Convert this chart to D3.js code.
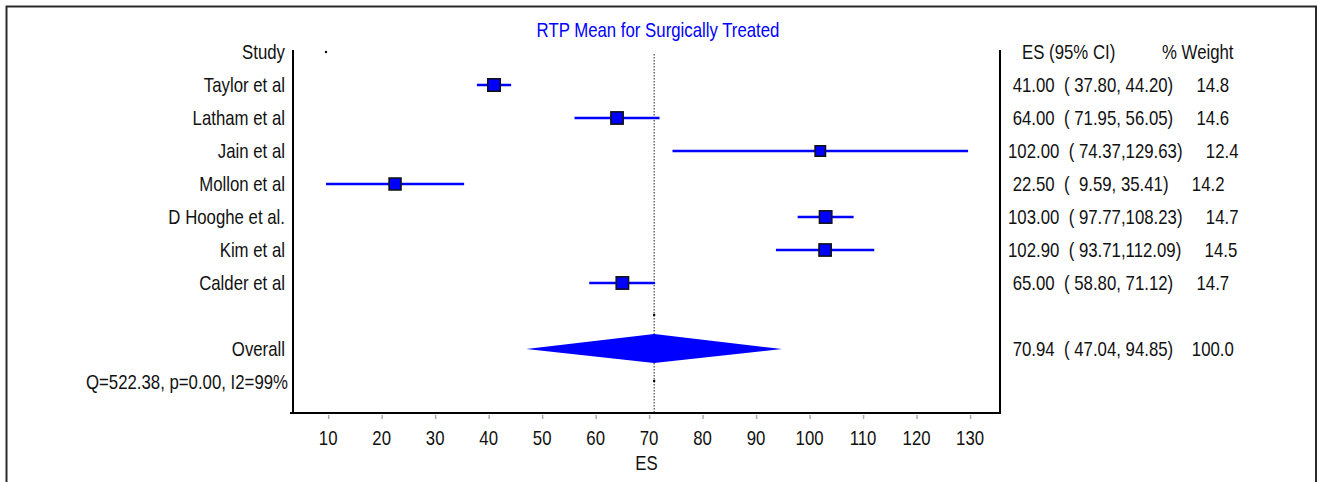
<!DOCTYPE html>
<html>
<head>
<meta charset="utf-8">
<script src="https://cdn.jsdelivr.net/npm/d3@7"></script>
<style>
  body { margin: 0; background: #fff; }
  svg text { font-family: "Liberation Sans", Arial, sans-serif; white-space: pre; }
</style>
</head>
<body>
<svg width="1319" height="482"></svg>
<script>
// data
var studies = ['Taylor et al', 'Latham et al', 'Jain et al', 'Mollon et al', 'D Hooghe et al.', 'Kim et al', 'Calder et al'];
var es = [41.00, 64.00, 102.00, 22.50, 103.00, 102.90, 65.00];
var lo = [37.80, 71.95, 74.37, 9.59, 97.77, 93.71, 58.80];
var hi = [44.20, 56.05, 129.63, 35.41, 108.23, 112.09, 71.12];
var weight = [14.8, 14.6, 12.4, 14.2, 14.7, 14.5, 14.7];
var overall = {es: 70.94, lo: 47.04, hi: 94.85, weight: 100.0};
var hetText = 'Q=522.38, p=0.00, I2=99%';
var xTicks = [10, 20, 30, 40, 50, 60, 70, 80, 90, 100, 110, 120, 130];

var fontSize = 20;
var squeeze = 0.84;
var blue = '#0000ff';

var svg = d3.select('svg');

// outer frame (bottom edge is off the picture)
svg.append('path')
    .attr('d', 'M6.5,482 V6.5 H1316 V482')
    .attr('fill', 'none')
    .attr('stroke', '#2a2a2a')
    .attr('stroke-width', 2);

var x = d3.scaleLinear().domain([3.42, 135.6]).range([293, 1000]);
var rowY = d3.scaleLinear().domain([0, 1]).range([52, 85]); // row index -> y
var boxSize = d3.scaleLinear().domain([0, 14.8]).range([0, 12.5]);

function label(txt, px, py, anchor, color) {
    return svg.append('text')
        .attr('transform', 'translate(' + px + ',' + py + ') scale(' + squeeze + ',1)')
        .attr('text-anchor', anchor || 'start')
        .attr('dy', '0.36em')
        .attr('font-size', fontSize)
        .attr('fill', color || '#111')
        .text(txt);
}

function pad(v, n, d) {
    var s = v.toFixed(d);
    while (s.length < n) s = ' ' + s;
    return s;
}

function rowText(e, l, h, w) {
    return pad(e, 6, 2) + '  (' + pad(l, 6, 2) + ',' + pad(h, 6, 2) + ')    ' + pad(w, 5, 1);
}

// title
label('RTP Mean for Surgically Treated', 658, 30, 'middle', blue);

// frame lines
svg.append('line').attr('x1', 293).attr('x2', 293).attr('y1', 50).attr('y2', 414)
    .attr('stroke', '#000').attr('stroke-width', 2);
svg.append('line').attr('x1', 1000).attr('x2', 1000).attr('y1', 50).attr('y2', 414)
    .attr('stroke', '#000').attr('stroke-width', 2);

// x axis
var axis = svg.append('g')
    .attr('transform', 'translate(0,413)')
    .call(d3.axisBottom(x).tickValues(xTicks).tickSize(6).tickPadding(8).tickFormat(d3.format('d')));
axis.select('.domain').attr('stroke', '#000').attr('stroke-width', 2)
    .attr('d', 'M' + (x.range()[0] - 3) + ',0H' + x.range()[1]);
axis.selectAll('.tick line').attr('stroke', '#aaa').attr('stroke-width', 1.5).attr('y1', 2);
axis.selectAll('.tick text').remove();
xTicks.forEach(function(t) { label(String(t), x(t), 438, 'middle'); });
label('ES', (x.range()[0] + x.range()[1]) / 2, 463, 'middle');

// overall effect reference line
svg.append('line')
    .attr('x1', x(overall.es)).attr('x2', x(overall.es))
    .attr('y1', 54).attr('y2', 413)
    .attr('stroke', '#222').attr('stroke-width', 1)
    .attr('stroke-dasharray', '1.5,1.5');

// headers
label('Study', 285, rowY(0), 'end');
label('ES (95% CI)', 1022, rowY(0));
label('% Weight', 1162, rowY(0));
svg.append('circle').attr('cx', 326).attr('cy', rowY(0)).attr('r', 1.2).attr('fill', '#000');

// studies
studies.forEach(function(name, i) {
    var y = rowY(i + 1);
    label(name, 285, y, 'end');
    svg.append('line')
        .attr('x1', x(Math.min(lo[i], hi[i]))).attr('x2', x(Math.max(lo[i], hi[i])))
        .attr('y1', y).attr('y2', y)
        .attr('stroke', blue).attr('stroke-width', 2.5);
    var s = boxSize(weight[i]);
    svg.append('rect')
        .attr('x', x(es[i]) - s / 2).attr('y', y - s / 2)
        .attr('width', s).attr('height', s)
        .attr('fill', blue).attr('stroke', '#111').attr('stroke-width', 1.5);
    label(rowText(es[i], lo[i], hi[i], weight[i]), 1008, y);
});

// overall diamond
var oy = rowY(studies.length + 2);
svg.append('path')
    .attr('d', 'M' + x(overall.lo) + ',' + oy +
               'L' + x(overall.es) + ',' + (oy - 15) +
               'L' + x(overall.hi) + ',' + oy +
               'L' + x(overall.es) + ',' + (oy + 14) + 'Z')
    .attr('fill', blue);
label('Overall', 285, oy, 'end');
label(rowText(overall.es, overall.lo, overall.hi, overall.weight), 1008, oy);
label(hetText, 288, rowY(studies.length + 3), 'end');

// tiny markers on reference line
[studies.length + 1, studies.length + 3].forEach(function(r) {
    svg.append('circle').attr('cx', x(overall.es)).attr('cy', rowY(r) - 1).attr('r', 1.2).attr('fill', '#000');
});
</script>
</body>
</html>
